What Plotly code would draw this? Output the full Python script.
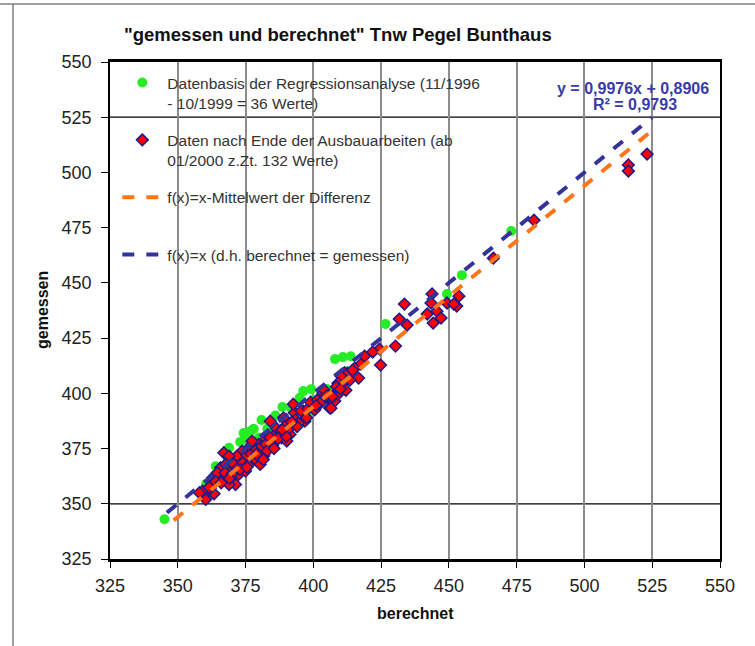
import plotly.graph_objects as go

# ---------------- data ----------------
green_x = [345.1, 360.5, 364.0, 368.9, 374.3, 375.0, 378.0, 380.9, 388.6, 396.3,
           399.2, 399.7, 408.0, 410.9, 413.8, 426.6, 449.3, 454.8, 473.0, 362.0,
           366.0, 368.0, 371.0, 372.0, 373.0, 375.5, 377.0, 380.0, 383.0, 386.0,
           392.0, 395.0, 400.0, 403.0, 405.0, 412.0]
green_y = [343.0, 359.0, 367.0, 375.4, 382.0, 380.0, 384.0, 387.9, 393.8, 401.0,
           401.9, 392.0, 415.5, 416.4, 416.8, 431.4, 445.0, 453.5, 473.5, 360.0,
           364.0, 366.0, 370.0, 372.0, 378.0, 373.0, 383.0, 380.0, 384.0, 390.0,
           393.0, 398.0, 397.0, 400.0, 402.0, 410.0]

red_x = [396.9, 396.3, 405.4, 403.6, 407.9, 406.0, 411.5, 411.5, 409.1, 393.0,
         392.6, 391.4, 389.0, 387.1, 385.9, 384.1, 382.3, 379.8, 378.6, 376.2,
         373.7, 371.9, 373.1, 376.2, 378.6, 380.4, 381.7, 377.4, 367.0, 368.9,
         370.1, 365.8, 366.4, 372.5, 371.3, 368.9, 362.8, 360.9, 360.3, 363.4,
         359.1, 375.0, 374.3, 371.3, 388.3, 390.2, 385.9, 383.5, 368.9, 367.7,
         364.6,
         433.6, 431.7, 434.6, 442.0, 445.6, 444.2, 447.1, 449.3, 452.9, 430.3,
         424.4, 421.9, 424.8, 418.9, 417.5, 415.3, 412.7, 411.6, 410.2, 409.1,
         416.7, 412.0, 409.1, 406.5, 406.5,
         523.1, 516.2, 516.2, 481.4, 466.4, 453.7, 443.8, 451.8, 443.4,
         362.0, 364.0, 366.0, 367.5, 369.5, 370.5, 372.0, 374.0, 375.5, 377.0,
         379.0, 380.0, 381.0, 382.5, 384.0, 385.0, 386.5, 388.0, 389.5, 391.0,
         393.5, 394.5, 395.5, 398.0, 399.0, 400.5, 401.5, 402.5, 404.0, 405.0,
         407.0, 408.5, 410.0, 413.5, 414.5, 370.0, 373.0, 376.0, 379.0, 383.0,
         387.0, 390.0, 394.0, 397.5, 401.0, 358.0, 361.5, 369.0, 375.5, 381.5,
         385.5, 388.5, 392.0]
red_y = [387.4, 391.9, 398.0, 400.2, 396.5, 393.4, 409.3, 405.5, 401.0, 391.2,
         395.1, 381.4, 388.9, 382.9, 378.4, 387.4, 379.1, 376.9, 373.8, 375.3,
         373.8, 371.6, 367.8, 370.1, 370.1, 367.8, 371.6, 378.4, 373.1, 369.3,
         365.6, 366.3, 362.5, 363.3, 358.7, 358.7, 361.7, 354.9, 352.0, 354.5,
         355.7, 364.8, 369.3, 367.0, 379.9, 378.4, 381.4, 375.3, 371.6, 367.8,
         364.0,
         440.4, 433.6, 430.9, 435.9, 437.2, 431.8, 434.1, 440.9, 439.5, 421.4,
         420.0, 418.7, 412.8, 416.8, 413.2, 411.4, 409.1, 405.5, 407.8, 404.6,
         406.9, 401.4, 399.6, 397.8, 393.3,
         508.3, 503.4, 500.6, 478.4, 461.2, 444.0, 445.0, 440.4, 440.9,
         357.0, 360.0, 359.5, 364.0, 362.0, 368.0, 366.0, 368.5, 372.0, 372.5,
         374.5, 372.0, 376.0, 377.0, 380.0, 376.5, 384.0, 383.0, 385.0, 384.0,
         388.0, 386.5, 392.0, 393.0, 396.0, 392.5, 397.0, 395.5, 401.5, 399.0,
         398.5, 403.0, 402.0, 406.0, 410.5, 363.5, 365.5, 367.5, 372.5, 374.0,
         379.5, 380.5, 385.0, 389.0, 394.5, 355.0, 357.5, 361.5, 366.5, 370.0,
         375.0, 383.5, 387.0]

ident_x = [346, 525]
ident_y = [346, 525]
mean_x = [348.5, 525]
mean_y = [342.5, 519]

x_ticks = [325, 350, 375, 400, 425, 450, 475, 500, 525, 550]
y_ticks = [325, 350, 375, 400, 425, 450, 475, 500, 525, 550]
h_lines = [350, 525]

title_text = '"gemessen und berechnet" Tnw Pegel Bunthaus'
x_title = "berechnet"
y_title = "gemessen"
eq_line1 = "y = 0,9976x + 0,8906"
eq_line2 = "R² = 0,9793"

names = ["Datenbasis der Regressionsanalyse (11/1996<br>- 10/1999 = 36 Werte)",
         "Daten nach Ende der Ausbauarbeiten (ab<br>01/2000 z.Zt. 132 Werte)",
         "f(x)=x-Mittelwert der Differenz<br> ",
         "f(x)=x (d.h. berechnet = gemessen)<br> "]

FONT = "Liberation Sans, Arial, sans-serif"

# plot area in pixels
L, R, T, B = 110, 720, 62, 559
PW, PH = R - L, B - T


def pxx(p):
    return (p - L) / PW


def pxy(p):
    return (B - p) / PH


fig = go.Figure()

fig.add_trace(go.Scatter(
    x=green_x, y=green_y, mode="markers", name=names[0], legendgroup="a",
    marker=dict(symbol="circle", size=10, color="#26ec26",
                line=dict(width=0))))
fig.add_trace(go.Scatter(
    x=red_x, y=red_y, mode="markers", name=names[1], legendgroup="b",
    marker=dict(symbol="diamond", size=9, color="#ff0000",
                line=dict(width=1.5, color="#1a1a8c"))))
fig.add_trace(go.Scatter(
    x=mean_x, y=mean_y, mode="lines", name=names[2], legendgroup="c",
    line=dict(color="#ff7519", width=4, dash="dash")))
fig.add_trace(go.Scatter(
    x=ident_x, y=ident_y, mode="lines", name=names[3], legendgroup="d",
    line=dict(color="#333399", width=4, dash="dash")))

shapes = []
for hv in h_lines:
    shapes.append(dict(type="line", xref="paper", yref="y", x0=0, x1=1, y0=hv, y1=hv,
                       line=dict(color="black", width=1.2), layer="below"))
# outer chart frame (top and left edges)
shapes.append(dict(type="line", xref="paper", yref="paper", x0=pxx(-20), x1=pxx(800),
                   y0=pxy(4), y1=pxy(4), line=dict(color="#808080", width=1.5)))
shapes.append(dict(type="line", xref="paper", yref="paper", x0=pxx(13), x1=pxx(13),
                   y0=pxy(700), y1=pxy(4), line=dict(color="#808080", width=1.5)))

fig.update_layout(
    width=755, height=646,
    margin=dict(l=L, r=755 - R, t=T, b=646 - B),
    paper_bgcolor="white", plot_bgcolor="white",
    font=dict(family=FONT, size=13, color="#222222"),
    showlegend=True,
    legend=dict(x=0.012, y=0.992, xanchor="left", yanchor="top",
                bgcolor="rgba(0,0,0,0)", borderwidth=0,
                font=dict(family=FONT, size=15.5, color="#333333"),
                tracegroupgap=14, valign="top", itemwidth=40),
    shapes=shapes,
    xaxis=dict(range=[325, 550], tickvals=x_ticks, showgrid=True,
               gridcolor="#8c8c8c", gridwidth=1.8, zeroline=False,
               showline=True, linecolor="black", linewidth=2.5, mirror=True,
               ticks="outside", ticklen=6, tickcolor="black", ticklabelstandoff=3,
               tickfont=dict(size=18, color="#222222")),
    yaxis=dict(range=[325, 550], tickvals=y_ticks, showgrid=False,
               zeroline=False, showline=True, linecolor="black", linewidth=1.5,
               mirror=True, ticks="outside", ticklen=7, tickcolor="black",
               ticklabelstandoff=6,
               tickfont=dict(size=18, color="#222222")),
)

fig.add_annotation(text="<b>" + title_text + "</b>", xref="paper", yref="paper",
                   x=pxx(338), y=pxy(35), showarrow=False,
                   font=dict(family=FONT, size=18.5, color="#111111"),
                   xanchor="center", yanchor="middle")
fig.add_annotation(text="<b>" + x_title + "</b>", xref="paper", yref="paper",
                   x=pxx(415), y=pxy(613), showarrow=False,
                   font=dict(family=FONT, size=16, color="#111111"),
                   xanchor="center", yanchor="middle")
fig.add_annotation(text="<b>" + y_title + "</b>", xref="paper", yref="paper",
                   x=pxx(42), y=pxy(310), showarrow=False,
                   textangle=-90,
                   font=dict(family=FONT, size=16, color="#111111"),
                   xanchor="center", yanchor="middle")
fig.add_annotation(text="<b>" + eq_line1 + "</b>", xref="paper", yref="paper",
                   x=pxx(633), y=pxy(88), showarrow=False,
                   font=dict(family=FONT, size=16, color="#3a3aa8"),
                   xanchor="center", yanchor="middle")
fig.add_annotation(text="<b>" + eq_line2 + "</b>", xref="paper", yref="paper",
                   x=pxx(635), y=pxy(104), showarrow=False,
                   font=dict(family=FONT, size=16, color="#3a3aa8"),
                   xanchor="center", yanchor="middle")

fig.write_html("out.html")
